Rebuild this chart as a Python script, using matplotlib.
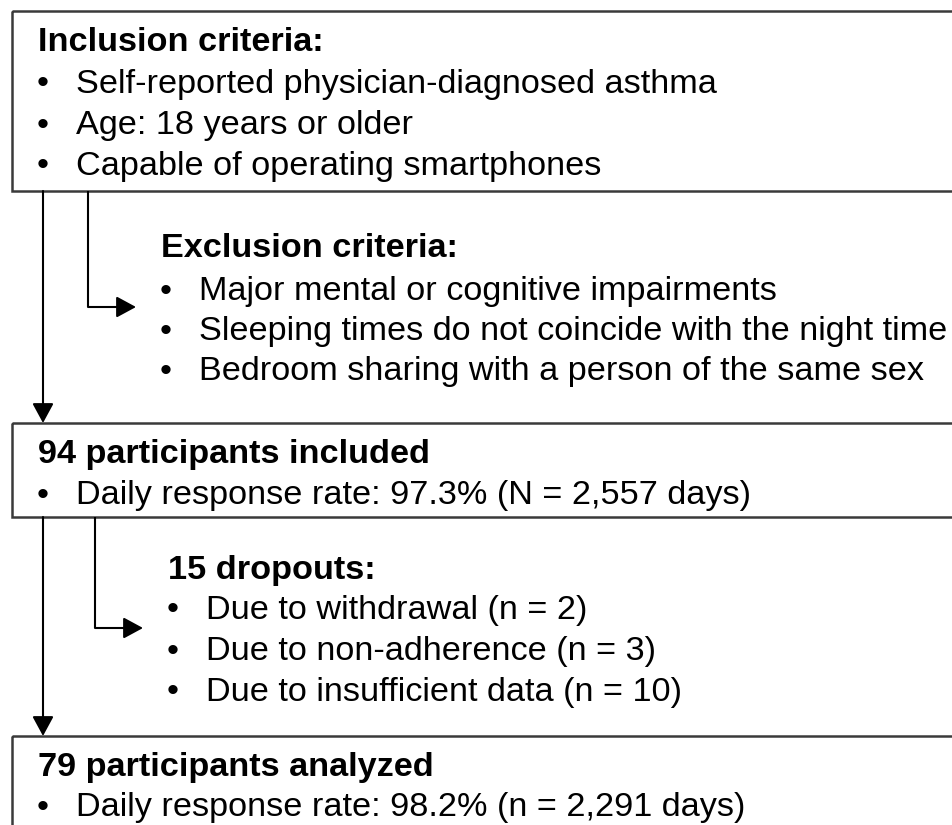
import matplotlib.pyplot as plt
from matplotlib.patches import Rectangle, FancyArrowPatch

plt.rcParams['font.family'] = ['Liberation Sans', 'DejaVu Sans']

# flowchart content
incl_title = 'Inclusion criteria:'
incl_items = ['Self-reported physician-diagnosed asthma',
              'Age: 18 years or older',
              'Capable of operating smartphones']
excl_title = 'Exclusion criteria:'
excl_items = ['Major mental or cognitive impairments',
              'Sleeping times do not coincide with the night time',
              'Bedroom sharing with a person of the same sex']
incl_n_title = '94 participants included'
incl_n_items = ['Daily response rate: 97.3% (N = 2,557 days)']
drop_title = '15 dropouts:'
drop_items = ['Due to withdrawal (n = 2)',
              'Due to non-adherence (n = 3)',
              'Due to insufficient data (n = 10)']
final_title = '79 participants analyzed'
final_items = ['Daily response rate: 98.2% (n = 2,291 days)']

W, H = 953, 825
fig = plt.figure(figsize=(W / 100, H / 100), dpi=100)
ax = fig.add_axes([0, 0, 1, 1])
ax.set_xlim(0, W)
ax.set_ylim(H, 0)
ax.axis('off')

fs = 24.7
edge = '#3a3a3a'


def box(y0, y1):
    ax.add_patch(Rectangle((12, y0), 1000, y1 - y0, fill=False,
                           edgecolor=edge, lw=1.8, clip_on=True))


def block(x, ys, title, items):
    # ys: baselines of title and each item
    ax.text(x, ys[0], title, fontsize=fs, fontweight='bold',
            va='baseline', ha='left')
    for yy, s in zip(ys[1:], items):
        ax.text(x + 5, yy - 8, '•', fontsize=fs, va='center', ha='center')
        ax.text(x + 38, yy, s, fontsize=fs, va='baseline', ha='left')


def arrow(pts):
    xs = [p[0] for p in pts[:-1]]
    ys = [p[1] for p in pts[:-1]]
    ax.plot(xs, ys, color='black', lw=1.5, solid_capstyle='butt')
    ax.add_patch(FancyArrowPatch(pts[-2], pts[-1],
                                 arrowstyle='-|>,head_length=12,head_width=6.5',
                                 mutation_scale=1, color='black', lw=1.5,
                                 shrinkA=0, shrinkB=0))


box(11, 191)
box(423, 517)
box(736, 900)

block(38, [51, 93, 134, 175], incl_title, incl_items)
block(161, [257, 300, 340, 380], excl_title, excl_items)
block(38, [463, 504], incl_n_title, incl_n_items)
block(168, [579, 619, 660, 701], drop_title, drop_items)
block(38, [776, 816], final_title, final_items)

arrow([(43, 191), (43, 423)])
arrow([(88, 191), (88, 307), (136, 307)])
arrow([(43, 517), (43, 736)])
arrow([(95, 517), (95, 628), (143, 628)])

fig.savefig('out.png', dpi=100, facecolor='white')
